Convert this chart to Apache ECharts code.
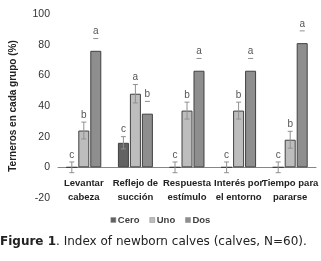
<!DOCTYPE html>
<html>
<head>
<meta charset="utf-8">
<script src="https://cdn.jsdelivr.net/npm/echarts@6/dist/echarts.min.js"></script>
<style>
  html, body { margin: 0; padding: 0; background: #fff; }
  #chart { width: 321px; height: 261px; }
</style>
</head>
<body>
<div id="chart"></div>
<script>
// values
const categories = ['Levantar\ncabeza', 'Reflejo de\nsucción', 'Respuesta\nestímulo', 'Interés por\nel entorno', 'Tiempo para\npararse']
const groups = ['Cero', 'Uno', 'Dos']
const cero = [0, 16, 0, 0, 0]
const uno = [24, 48, 37, 37, 18]
const dos = [76, 35, 63, 63, 81]
const ceroErr = [3.5, 4, 3.5, 3.5, 3.5]
const unoErr = [5.5, 6, 5.5, 5.5, 5.5]
const dosErr = [8, 8, 8, 8, 8]
const ceroLetters = ['c', 'c', 'c', 'c', 'c']
const unoLetters = ['b', 'a', 'b', 'b', 'b']
const dosLetters = ['a', 'b', 'a', 'a', 'a']
const yTicks = [-20, 0, 20, 40, 60, 80, 100]

const font = '"Liberation Sans", Arial, sans-serif'
const colors = ['#626262', '#bdbdbd', '#8e8e8e']
const offsets = [-12, 0, 12]

const chart = echarts.init(document.getElementById('chart'))

function errorSeries(idx, values, errs, letters, stem) {
  return {
    type: 'custom',
    name: groups[idx] + ' err',
    z: 5,
    silent: true,
    data: values.map((v, i) => [i, v, errs[i], letters[i]]),
    renderItem: (params, api) => {
      const i = api.value(0)
      const v = api.value(1)
      const e = api.value(2)
      const top = api.coord([i, v + e])
      const bot = api.coord([i, v - e])
      const x = top[0] + offsets[idx]
      const children = [
        { type: 'line', shape: { x1: x - 2.5, y1: top[1], x2: x + 2.5, y2: top[1] }, style: { stroke: '#909090', lineWidth: 1 } },
        { type: 'line', shape: { x1: x - 2.5, y1: bot[1], x2: x + 2.5, y2: bot[1] }, style: { stroke: '#909090', lineWidth: 1 } },
        {
          type: 'text',
          style: {
            text: letters[i], x: x, y: top[1] - 2,
            align: 'center', verticalAlign: 'bottom',
            font: '10px ' + font, fill: '#555'
          }
        }
      ]
      if (stem) {
        children.push({ type: 'line', shape: { x1: x, y1: top[1], x2: x, y2: bot[1] }, style: { stroke: '#909090', lineWidth: 1 } })
      }
      return { type: 'group', children }
    }
  }
}

function barSeries(idx, values) {
  return {
    type: 'bar',
    name: groups[idx],
    data: values,
    barWidth: 11,
    barGap: '9%',
    itemStyle: { color: colors[idx], borderColor: '#404040', borderWidth: 1 }
  }
}

chart.setOption({
  animation: false,
  textStyle: { fontFamily: font },
  grid: { left: 48, right: 5, top: 14, bottom: 63 },
  legend: {
    data: groups.map((g, i) => ({ name: g, itemStyle: { color: colors[i], borderColor: '#888', borderWidth: 0.5 } })),
    top: 210,
    left: 'center',
    icon: 'rect',
    itemWidth: 5,
    itemHeight: 5,
    itemGap: 10,
    textStyle: { fontSize: 9.5, fontWeight: 'bold', color: '#404040', fontFamily: font, padding: [0, 0, 0, -3] }
  },
  xAxis: {
    type: 'category',
    data: categories,
    axisLine: { onZero: true, lineStyle: { color: '#868686' } },
    axisTick: { show: false },
    axisLabel: { interval: 0, fontSize: 9.5, fontWeight: 'bold', color: '#222', margin: -22, lineHeight: 14, fontFamily: font }
  },
  yAxis: {
    type: 'value',
    min: yTicks[0],
    max: yTicks[yTicks.length - 1],
    interval: 20,
    name: 'Terneros en cada grupo (%)',
    nameLocation: 'middle',
    nameRotate: 90,
    nameGap: 40,
    nameTextStyle: { fontSize: 10, fontWeight: 'bold', color: '#222', fontFamily: font },
    axisLine: { show: false },
    axisTick: { show: false },
    splitLine: { show: false },
    axisLabel: { fontSize: 10.5, color: '#333', margin: 8, fontFamily: font }
  },
  graphic: [{
    type: 'text',
    left: 0,
    top: 236,
    style: {
      text: '{b|Figure 1}. Index of newborn calves (calves, N=60).',
      font: '12px "DejaVu Sans", Verdana, sans-serif',
      fill: '#222',
      rich: { b: { fontWeight: 'bold', fontSize: 12, fontFamily: '"DejaVu Sans", Verdana, sans-serif' } }
    }
  }],
  series: [
    barSeries(0, cero),
    barSeries(1, uno),
    barSeries(2, dos),
    errorSeries(0, cero, ceroErr, ceroLetters, true),
    errorSeries(1, uno, unoErr, unoLetters, true),
    errorSeries(2, dos, dosErr, dosLetters, false)
  ]
})
</script>
</body>
</html>
